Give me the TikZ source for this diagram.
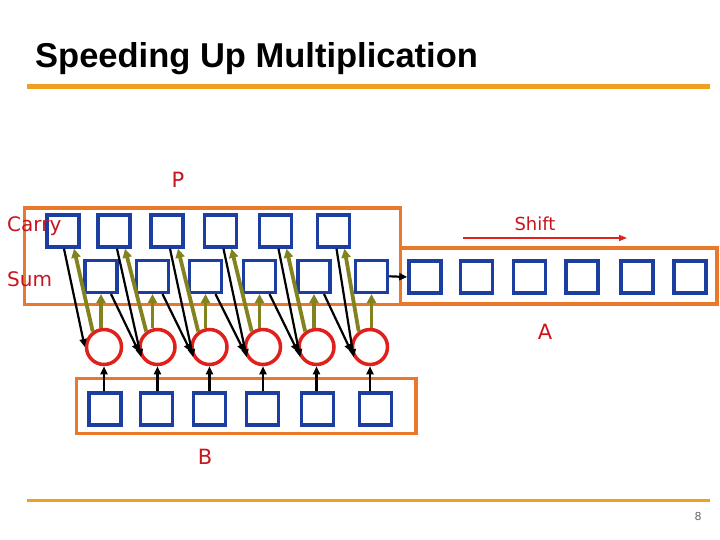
\documentclass[tikz,border=0pt]{standalone}
\usepackage{fontspec}
\setmainfont{DejaVu Sans}
\newfontfamily\titlefont{Liberation Sans}
\usetikzlibrary{arrows.meta,calc}
\definecolor{sqblue}{RGB}{28,62,160}
\definecolor{boxorange}{RGB}{232,121,43}
\definecolor{addred}{RGB}{224,32,27}
\definecolor{lblred}{RGB}{200,20,30}
\definecolor{olv}{RGB}{130,130,30}
\definecolor{titleorange}{RGB}{240,160,32}
\begin{document}
\begin{tikzpicture}[x=1pt,y=-1pt,
  reg/.style={draw=sqblue,line width=3.5pt,minimum size=32pt,inner sep=0pt},
  bigbox/.style={draw=boxorange,line width=3.5pt},
  adder/.style={circle,draw=addred,line width=3.5pt,minimum size=35pt,inner sep=0pt},
  lbl/.style={text=lblred,font=\fontsize{21}{25}\selectfont},
  blk/.style={-{Triangle[length=8pt,width=7pt]},line width=2.2pt,black},
  olvarrow/.style={-{Triangle[length=9pt,width=9pt]},line width=3.8pt,olv},
]
\useasboundingbox (0,0) rectangle (720,540);
% title
\node[anchor=base west,inner sep=0pt,font=\titlefont\bfseries\fontsize{34.5}{40}\selectfont] (title) at (35,68) {Speeding Up Multiplication};
\draw[titleorange,line width=5pt] (27,87) -- (710,87);
\draw[titleorange,line width=3pt] (27,500) -- (710,500);
\node[anchor=base,inner sep=0pt,text=black!60,font=\fontsize{11}{13}\selectfont] (pg) at (698,520) {8};
% registers (boxes)
\draw[bigbox] (24.5,208) rectangle (400.5,304.5);
\draw[bigbox] (400.5,248) rectangle (717,304);
\draw[bigbox] (76.5,378.5) rectangle (416,433.5);
% squares
\foreach \i/\x in {1/63,2/114,3/167,4/220.5,5/275.5,6/333.5}
  \node[reg] (k\i) at (\x,231) {};
\foreach \i/\x in {1/101,2/152.5,3/205.5,4/259.5,5/314,6/371.5}
  \node[reg] (s\i) at (\x,276.3) {};
\foreach \i/\x in {1/425,2/476.5,3/529.5,4/582,5/637,6/690}
  \node[reg] (a\i) at (\x,277) {};
\foreach \i/\x in {1/105,2/156.5,3/209.5,4/262.5,5/317.5,6/375.5}
  \node[reg] (b\i) at (\x,409) {};
\foreach \i/\x in {1/104,2/157.5,3/209.5,4/263,5/316.5,6/370}
  \node[adder] (c\i) at (\x,347) {};
% B -> adders
\foreach \i in {1,...,6}
  \draw[blk] (c\i.south |- b\i.north) -- (c\i.south);
% adders -> sum, carry
\foreach \i in {1,...,6}{
  \draw[olvarrow] (c\i.north -| s\i.south) -- (s\i.south);
  \draw[olvarrow] (c\i.126) -- ($(k\i.south)+(11,0)$);
}
% carry -> adder
\draw[blk] ($(k1.south)+(1,0)$) -- (c1.180);
\foreach \i in {2,...,6}
  \draw[blk] ($(k\i.south)+(3,0)$) -- (c\i.212);
% sum -> next adder
\foreach \i/\j in {1/2,2/3,3/4,4/5,5/6}
  \draw[blk] ($(s\i.south)+(10,0)$) -- (c\j.195);
% sum6 -> A
\draw[blk] (s6.east) -- (a1.west);
% labels
\node[lbl,anchor=base] (lp) at (178,188) {P};
\node[lbl,anchor=base] (la) at (545,339) {A};
\node[lbl,anchor=base] (lb) at (205,464) {B};
\node[lbl,anchor=base west,inner sep=0pt,font=\fontsize{20}{24}\selectfont] (lcarry) at (7,232) {Carry};
\node[lbl,anchor=base west,inner sep=0pt,font=\fontsize{20}{24}\selectfont] (lsum) at (7,286) {Sum};
\node[lbl,anchor=base,inner sep=0pt,font=\fontsize{18}{22}\selectfont] (lshift) at (535,230) {Shift};
\coordinate (sh1) at (463,238);
\coordinate (sh2) at (627,238);
\draw[-{Triangle[length=8pt,width=6pt]},line width=1.6pt,addred] (sh1) -- (sh2);
\end{tikzpicture}
\end{document}
